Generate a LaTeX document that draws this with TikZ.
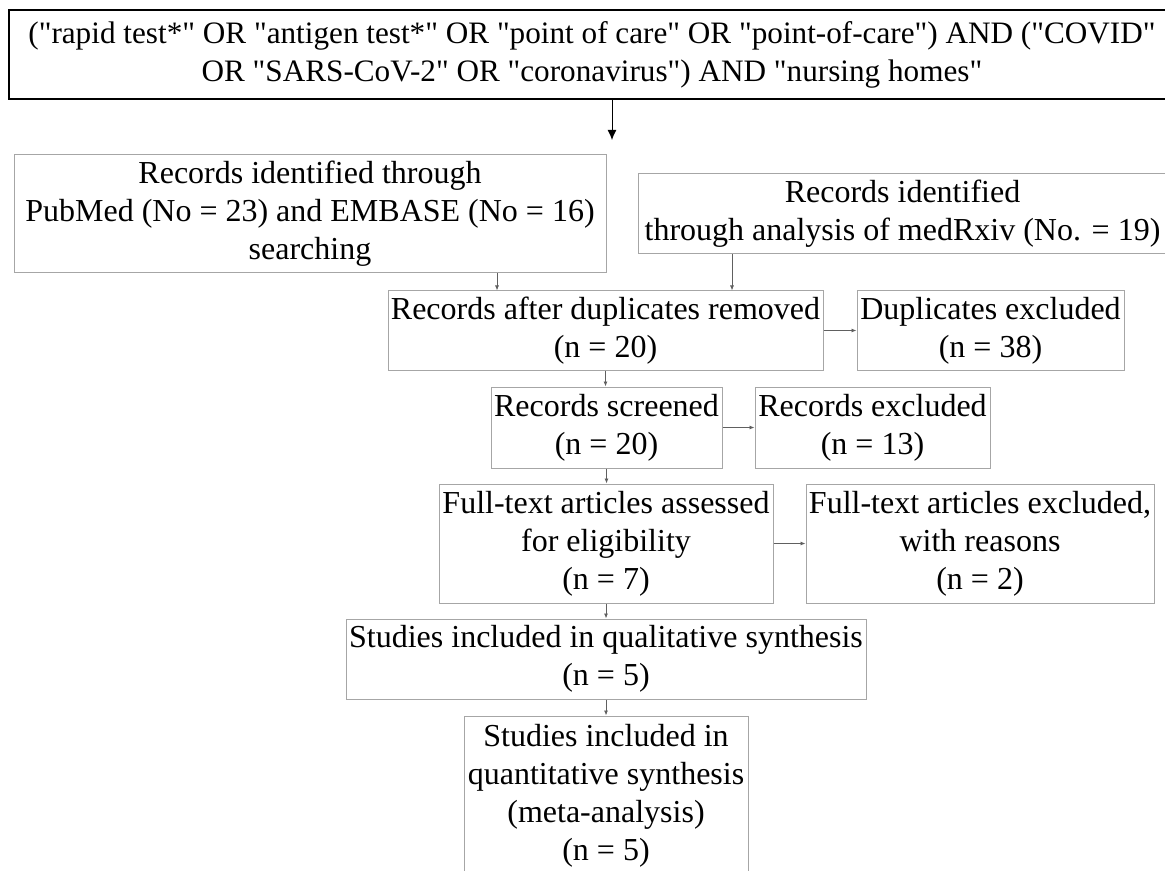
\documentclass[tikz,border=0pt]{standalone}
\usepackage{fontspec}
\setmainfont{Liberation Serif}
\newfontfamily\boxfont{Liberation Serif}
\usetikzlibrary{arrows.meta}

\begin{document}
\begin{tikzpicture}[x=0.5pt, y=-0.5pt,
  box/.style={draw=gray!70, line width=0.5pt, align=center, inner sep=0pt,
    font=\boxfont\fontsize{16}{19}\selectfont},
  link/.style={draw=gray!75!black, line width=0.4pt, -{Latex[length=2.5pt,width=2pt]}}]

\useasboundingbox (0,0) rectangle (1165,871);
\clip (0,0) rectangle (1165,871);

% search string
  \node[box, draw=black, line width=0.7pt, minimum width=583pt, minimum height=44.5pt,
    font=\boxfont\fontsize{15.6}{19}\selectfont]
    (query) at (592,54.5)
    {("rapid test*" OR "antigen test*" OR "point of care" OR "point-of-care") AND ("COVID"\\
     OR "SARS-CoV-2" OR "coronavirus") AND "nursing homes"};
  \coordinate (hit) at (612,140);
  \draw[line width=0.5pt, -{Latex[length=5pt,width=4.5pt]}] (query.south -| hit) -- (hit);

% identification
  \node[box, minimum width=296pt, minimum height=59pt] (pubmed) at (310,214)
    {Records identified through\\ PubMed (No = 23) and EMBASE (No = 16)\\ searching};
  \node[box, minimum width=264.5pt, minimum height=40pt] (medrxiv) at (902.5,214)
    {Records identified\\ through analysis of medRxiv (No. = 19)};

% screening
  \node[box, minimum width=217.5pt, minimum height=39.5pt] (dup) at (605.5,330.5)
    {Records after duplicates removed\\ (n = 20)};
  \node[box, minimum width=133.5pt, minimum height=40pt] (dupex) at (990.5,330.5)
    {Duplicates excluded\\ (n = 38)};
  \node[box, minimum width=115.5pt, minimum height=40.5pt] (screened) at (606.5,427.5)
    {Records screened\\ (n = 20)};
  \node[box, minimum width=117.5pt, minimum height=40.5pt] (recex) at (872.5,427.5)
    {Records excluded\\ (n = 13)};

% eligibility
  \node[box, minimum width=167pt, minimum height=59.5pt] (fulltext) at (606,543.5)
    {Full-text articles assessed\\ for eligibility\\ (n = 7)};
  \node[box, minimum width=174pt, minimum height=59.5pt] (ftex) at (980,543.5)
    {Full-text articles excluded,\\ with reasons\\ (n = 2)};

% included
  \node[box, minimum width=260pt, minimum height=40pt] (qual) at (606,659)
    {Studies included in qualitative synthesis\\ (n = 5)};
  \node[box, minimum width=142pt, minimum height=80pt] (quant) at (606,796)
    {Studies included in\\ quantitative synthesis\\ (meta-analysis)\\ (n = 5)};

% arrows
  \draw[link] (pubmed.south -| 497,0) -- (dup.north -| 497,0);
  \draw[link] (medrxiv.south -| 732,0) -- (dup.north -| 732,0);
  \draw[link] (dup.east) -- (dupex.west);
  \draw[link] (dup.south) -- (dup.south |- screened.north);
  \draw[link] (screened.east) -- (recex.west);
  \draw[link] (screened.south) -- (screened.south |- fulltext.north);
  \draw[link] (fulltext.east) -- (ftex.west);
  \draw[link] (fulltext.south) -- (qual.north);
  \draw[link] (qual.south) -- (quant.north);

\end{tikzpicture}
\end{document}
